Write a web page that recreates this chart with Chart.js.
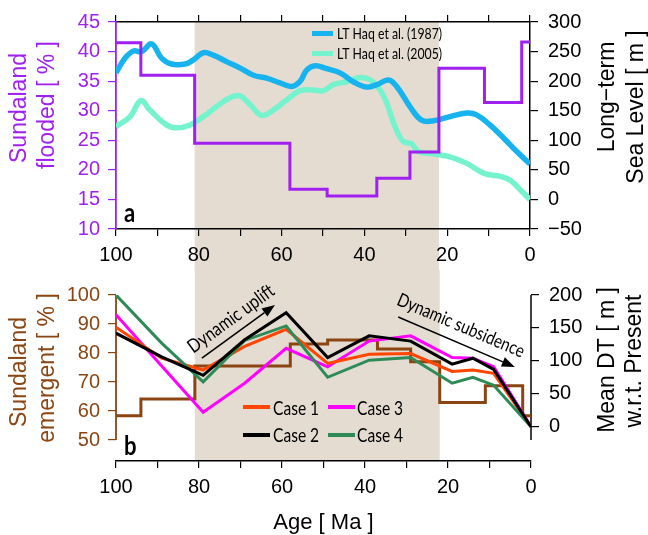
<!DOCTYPE html>
<html>
<head>
<meta charset="utf-8">
<script src="https://cdn.jsdelivr.net/npm/chart.js@4.4.0/dist/chart.umd.min.js"></script>
<style>
  body { margin: 0; background: #fff; }
  #wrap { position: relative; width: 648px; height: 535px; }
  #topChart { position: absolute; left: 0; top: 0; }
  #botChart { position: absolute; left: 0; top: 270px; }
</style>
</head>
<body>
<div id="wrap">
  <canvas id="topChart" width="648" height="270"></canvas>
  <canvas id="botChart" width="648" height="265"></canvas>
</div>
<script>
// ---- data ----
// step intervals (Ma): value i holds from stepAges[i] to stepAges[i+1]
const stepAges = [100, 94, 81, 58, 49, 37, 29, 22, 11, 2, 0];
const floodedPct = [41.5, 36, 24.5, 16.7, 15.6, 18.6, 23, 37.2, 31.4, 41.6];
const emergentPct = [58.4, 64.1, 75.5, 83.1, 84.5, 81.4, 77, 62.9, 68.7, 58.4];

// long-term sea level (m)
const haq87Age = [100, 97.8, 95.8, 93.8, 91.4, 89, 86.6, 83.3, 81.3, 78.9, 76.5, 73.3, 70, 66.8, 63.6, 60.4, 57.6, 55.6, 53.9, 51.9, 49.1, 45.9, 42.7, 39.5, 37, 34.2, 32.2, 29, 26.2, 23.3, 19.3, 15.3, 12.9, 9.7, 6.4, 3.2, 0];
const haq87SL = [214, 239, 251, 250, 263, 239, 229, 229, 236, 248, 244, 233, 222, 210, 205, 197, 191, 199, 219, 226, 221, 214, 199, 190, 194, 202, 191, 157, 134, 133, 140, 146, 143, 126, 104, 81, 60];
const haq05Age = [100, 96.6, 94, 91.8, 87.8, 85.3, 82.1, 78.9, 75.7, 72.5, 70, 67.6, 64.8, 62, 58.8, 55.6, 52.4, 49.9, 47.5, 44.3, 41.1, 38.6, 36.2, 34.6, 32.6, 30.6, 28.6, 27, 23.3, 19.3, 15.3, 11.1, 7.1, 4.7, 2.3, 0];
const haq05SL = [123, 140, 167, 151, 126, 121, 126, 140, 157, 172, 175, 160, 142, 151, 168, 184, 185, 184, 194, 199, 206, 202, 185, 163, 123, 98, 94, 81, 77, 72, 61, 44, 39, 32, 16, 0];

// mean dynamic topography w.r.t. present (m)
const caseAges = [100, 89, 79, 69, 59, 49, 39, 29, 19, 14, 9, 0];
const case1 = [151, 104, 86, 122, 148, 96, 110, 111, 84, 86, 81, 0];
const case2 = [142, 106, 78, 132, 173, 105, 138, 130, 95, 104, 87, 0];
const case3 = [170, 92, 22, 66, 119, 91, 130, 138, 105, 104, 91, 0];
const case4 = [200, 127, 68, 131, 153, 75, 101, 105, 66, 75, 63, 0];

const shadeFrom = 81, shadeTo = 22;
const emergentTicks = [50, 55, 60, 65, 70, 75, 80, 85, 90, 95, 100];
const dtTicks = [0, 50, 100, 150, 200];

// ---- styling ----
const purple = '#a020f0', brown = '#8b4513';
const sans = '"Liberation Sans", Arial, sans-serif';
const cond = 'Lato, "Open Sans", sans-serif';
const tickFont = { family: sans, size: 20 };

function pts(xs, ys) { return xs.map((x, i) => ({ x: x, y: ys[i] })); }
function stepPts(edges, vals) {
  const p = vals.map((v, i) => ({ x: edges[i], y: v }));
  p.push({ x: edges[edges.length - 1], y: vals[vals.length - 1] });
  return p;
}
function condText(ctx, str, x, y, o) {
  ctx.save();
  ctx.translate(x, y);
  if (o.rot) ctx.rotate(o.rot);
  ctx.scale(o.sx || 0.82, 1);
  ctx.font = (o.bold ? 'bold ' : '') + o.size + 'px ' + cond;
  ctx.fillStyle = o.color || '#000';
  ctx.textAlign = o.align || 'left';
  ctx.textBaseline = o.base || 'alphabetic';
  ctx.fillText(str, 0, 0);
  ctx.restore();
}
function vText(ctx, str, x, y, color) {
  ctx.save();
  ctx.translate(x, y);
  ctx.rotate(-Math.PI / 2);
  ctx.font = '23px ' + sans;
  ctx.fillStyle = color;
  ctx.textAlign = 'center';
  ctx.textBaseline = 'middle';
  ctx.fillText(str, 0, 0);
  ctx.restore();
}
function legendLine(ctx, x, y, len, color, w) {
  ctx.save();
  ctx.strokeStyle = color; ctx.lineWidth = w;
  ctx.beginPath(); ctx.moveTo(x, y); ctx.lineTo(x + len, y); ctx.stroke();
  ctx.restore();
}
function arrow(ctx, x1, y1, x2, y2) {
  const a = Math.atan2(y2 - y1, x2 - x1), L = 13, W = 5;
  ctx.save();
  ctx.strokeStyle = '#000'; ctx.fillStyle = '#000'; ctx.lineWidth = 1.5;
  ctx.beginPath(); ctx.moveTo(x1, y1);
  ctx.lineTo(x2 - L * Math.cos(a), y2 - L * Math.sin(a)); ctx.stroke();
  ctx.beginPath();
  ctx.moveTo(x2, y2);
  ctx.lineTo(x2 - L * Math.cos(a) + W * Math.sin(a), y2 - L * Math.sin(a) - W * Math.cos(a));
  ctx.lineTo(x2 - L * Math.cos(a) - W * Math.sin(a), y2 - L * Math.sin(a) + W * Math.cos(a));
  ctx.closePath(); ctx.fill();
  ctx.restore();
}

function ageAxis(pos, h, labels, border) {
  return {
    type: 'linear', position: pos, min: 0, max: 100, reverse: true,
    ticks: {
      stepSize: 10, autoSkip: false, maxRotation: 0, minRotation: 0, padding: 7,
      color: '#000', font: tickFont,
      callback: v => (labels && v % 20 === 0) ? String(v) : ''
    },
    grid: { drawOnChartArea: false, drawTicks: true, tickLength: 7, color: '#000', lineWidth: 1.2 },
    border: { display: border, color: '#000', width: 1.5 },
    afterFit: s => { s.height = h; }
  };
}

const shading = {
  id: 'shading',
  beforeDraw(chart, args, opts) {
    const { ctx, chartArea } = chart;
    const x = chart.scales.x;
    const l = x.getPixelForValue(shadeFrom), r = x.getPixelForValue(shadeTo);
    const top = opts.full ? 0 : chartArea.top;
    const bot = opts.full ? chartArea.bottom : chart.height;
    ctx.save();
    ctx.fillStyle = '#e4dcd0';
    ctx.fillRect(l, top, r - l, bot - top);
    ctx.restore();
  }
};

// ---- panel a ----
new Chart(document.getElementById('topChart'), {
  type: 'line',
  data: {
    datasets: [
      { data: stepPts(stepAges, floodedPct), yAxisID: 'yF', borderColor: purple, borderWidth: 3, stepped: true },
      { data: pts(haq87Age, haq87SL), yAxisID: 'ySL', borderColor: '#17b3ef', borderWidth: 5.5, tension: 0.4 },
      { data: pts(haq05Age, haq05SL), yAxisID: 'ySL', borderColor: '#74f3cd', borderWidth: 5.5, tension: 0.4 }
    ]
  },
  options: {
    responsive: false, animation: false,
    layout: { padding: 0 },
    elements: { point: { radius: 0 } },
    plugins: { legend: { display: false }, tooltip: { enabled: false }, shading: { full: false } },
    scales: {
      x: ageAxis('bottom', 41, true, true),
      x2: ageAxis('top', 22, false, true),
      yF: {
        type: 'linear', position: 'left', min: 10, max: 45,
        ticks: { stepSize: 5, padding: 8, color: purple, font: tickFont },
        grid: { drawOnChartArea: false, tickLength: 8, color: purple, lineWidth: 1.2 },
        border: { color: purple, width: 1.8 },
        afterFit: s => { s.width = 116; }
      },
      ySL: {
        type: 'linear', position: 'right', min: -50, max: 300,
        ticks: { stepSize: 50, padding: 10, color: '#000', font: tickFont,
          callback: v => v < 0 ? '\u2212' + Math.abs(v) : String(v) },
        grid: { drawOnChartArea: false, tickLength: 8, color: '#000', lineWidth: 1.2 },
        border: { color: '#000', width: 1.5 },
        afterFit: s => { s.width = 118; }
      }
    }
  },
  plugins: [shading, {
    id: 'decorA',
    afterDraw(chart) {
      const ctx = chart.ctx;
      legendLine(ctx, 312, 33.5, 21, '#17b3ef', 5);
      condText(ctx, 'LT Haq et al. (1987)', 337, 39, { size: 15 });
      legendLine(ctx, 312, 53.5, 21, '#74f3cd', 5);
      condText(ctx, 'LT Haq et al. (2005)', 337, 59, { size: 15 });
      condText(ctx, 'a', 124, 222, { size: 26, bold: true, sx: 0.85 });
      vText(ctx, 'Sundaland', 20, 108, purple);
      vText(ctx, 'flooded [ % ]', 48, 105, purple);
      vText(ctx, 'Long\u2212term', 608, 97, '#000');
      vText(ctx, 'Sea Level [ m ]', 637, 107, '#000');
    }
  }]
});

// ---- panel b ----
new Chart(document.getElementById('botChart'), {
  type: 'line',
  data: {
    datasets: [
      { data: pts(caseAges, case2), yAxisID: 'yDT', borderColor: '#000', borderWidth: 3 },
      { data: pts(caseAges, case4), yAxisID: 'yDT', borderColor: '#2e8b57', borderWidth: 3 },
      { data: pts(caseAges, case1), yAxisID: 'yDT', borderColor: '#ff4500', borderWidth: 3 },
      { data: pts(caseAges, case3), yAxisID: 'yDT', borderColor: '#ff00ff', borderWidth: 3 },
      { data: stepPts(stepAges, emergentPct), yAxisID: 'yE', borderColor: brown, borderWidth: 3, stepped: true }
    ]
  },
  options: {
    responsive: false, animation: false,
    layout: { padding: 0 },
    elements: { point: { radius: 0 }, line: { borderJoinStyle: 'miter' } },
    plugins: { legend: { display: false }, tooltip: { enabled: false }, shading: { full: true } },
    scales: {
      x: ageAxis('bottom', 74, true, true),
      xt: {
        type: 'linear', position: 'top', min: 0, max: 100,
        ticks: { callback: () => '' },
        grid: { display: false }, border: { display: false },
        afterFit: s => { s.height = 25; }
      },
      yE: {
        type: 'linear', position: 'left', min: 42.76, max: 100,
        afterBuildTicks: s => { s.ticks = emergentTicks.map(v => ({ value: v })); },
        ticks: { padding: 8, color: brown, font: tickFont, callback: v => v % 10 === 0 ? String(v) : '' },
        grid: { drawOnChartArea: false, tickLength: 8, color: brown, lineWidth: 1.2 },
        border: { display: false },
        afterFit: s => { s.width = 116; }
      },
      yDT: {
        type: 'linear', position: 'right', min: -52.1, max: 200,
        afterBuildTicks: s => { s.ticks = dtTicks.map(v => ({ value: v })); },
        ticks: { padding: 10, color: '#000', font: tickFont },
        grid: { drawOnChartArea: false, tickLength: 8, color: '#000', lineWidth: 1.2 },
        border: { display: false },
        afterFit: s => { s.width = 117; }
      }
    }
  },
  plugins: [shading, {
    id: 'decorB',
    beforeDatasetsDraw(chart) {
      const { ctx, chartArea, scales } = chart;
      const yE = scales.yE;
      ctx.save();
      ctx.lineWidth = 1.8;
      ctx.strokeStyle = brown;
      ctx.beginPath();
      ctx.moveTo(chartArea.left, yE.getPixelForValue(50));
      ctx.lineTo(chartArea.left, yE.getPixelForValue(100));
      ctx.stroke();
      ctx.strokeStyle = '#000';
      ctx.lineWidth = 1.5;
      ctx.beginPath();
      ctx.moveTo(chartArea.right, yE.getPixelForValue(50));
      ctx.lineTo(chartArea.right, yE.getPixelForValue(100));
      ctx.stroke();
      ctx.restore();
    },
    afterDraw(chart) {
      const { ctx, scales } = chart;
      const X = v => scales.x.getPixelForValue(v), Y = v => scales.yDT.getPixelForValue(v);
      // annotations
      arrow(ctx, X(79.3), Y(104), X(61.7), Y(185));
      condText(ctx, 'Dynamic uplift', X(72.3), Y(164), { size: 19, rot: -36 * Math.PI / 180, align: 'center', base: 'middle', sx: 0.84 });
      arrow(ctx, X(32), Y(166.6), X(3.9), Y(90.7));
      condText(ctx, 'Dynamic subsidence', X(16.9), Y(153.5), { size: 18.5, rot: 23 * Math.PI / 180, align: 'center', base: 'middle', sx: 0.82 });
      // legend
      legendLine(ctx, 243, 137, 27, '#ff4500', 4);
      condText(ctx, 'Case 1', 273, 144.5, { size: 19 });
      legendLine(ctx, 328, 137, 27, '#ff00ff', 4);
      condText(ctx, 'Case 3', 357, 144.5, { size: 19 });
      legendLine(ctx, 243, 165, 27, '#000', 4);
      condText(ctx, 'Case 2', 273, 172, { size: 19 });
      legendLine(ctx, 328, 165, 27, '#2e8b57', 4);
      condText(ctx, 'Case 4', 357, 172, { size: 19 });
      condText(ctx, 'b', 124, 185, { size: 26, bold: true, sx: 0.85 });
      // axis titles
      vText(ctx, 'Sundaland', 20, 102, brown);
      vText(ctx, 'emergent [ % ]', 48, 98, brown);
      vText(ctx, 'Mean DT [ m ]', 608, 90, '#000');
      vText(ctx, 'w.r.t. Present', 635, 91, '#000');
      ctx.save();
      ctx.font = '22px ' + sans;
      ctx.fillStyle = '#000';
      ctx.textAlign = 'center';
      ctx.textBaseline = 'alphabetic';
      ctx.fillText('Age [ Ma ]', (scales.x.left + scales.x.right) / 2, 259);
      ctx.restore();
    }
  }]
});
</script>
</body>
</html>
